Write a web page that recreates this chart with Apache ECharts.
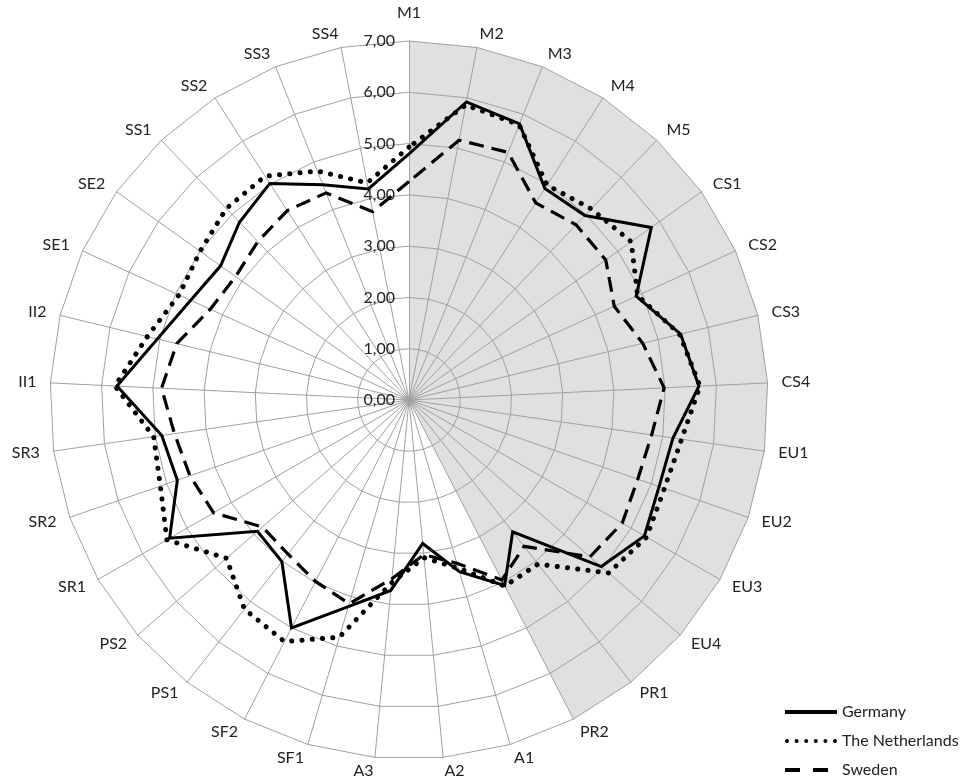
<!DOCTYPE html>
<html>
<head>
<meta charset="utf-8">
<script src="https://cdn.jsdelivr.net/npm/echarts@6/dist/echarts.min.js"></script>
<style>
html,body{margin:0;padding:0;background:#fff;}
#c{width:972px;height:782px;}
</style>
</head>
<body>
<div id="c"></div>
<script>
// ---- data (natural clockwise order starting at the top) ----
const categories = ['M1','M2','M3','M4','M5','CS1','CS2','CS3','CS4','EU1','EU2','EU3','EU4','PR1','PR2','A1','A2','A3','SF1','SF2','PS1','PS2','SR1','SR2','SR3','II1','II2','SE1','SE2','SS1','SS2','SS3','SS4'];
const germany     = [4.80,5.92,5.80,4.90,4.97,5.80,4.87,5.45,5.66,5.20,5.16,5.30,4.96,3.27,4.07,3.49,2.81,3.73,4.20,5.00,4.01,3.91,5.39,4.78,4.87,5.70,5.05,4.68,4.51,4.79,5.02,4.52,4.19];
const netherlands = [4.93,5.86,5.78,4.98,5.15,5.32,4.90,5.43,5.68,5.37,5.27,5.35,5.15,4.07,4.08,3.42,3.09,3.58,4.82,5.30,5.19,4.71,5.45,5.13,5.03,5.74,5.25,4.93,5.00,5.16,5.19,4.81,4.31];
const sweden      = [4.26,5.16,5.20,4.57,4.72,4.71,4.40,4.69,4.98,4.78,4.72,4.80,4.67,3.63,3.95,3.32,3.03,3.50,4.14,3.98,3.82,3.78,4.40,4.52,4.62,4.83,4.66,4.26,4.15,4.27,4.39,4.35,3.74];
const shadedCategories = ['M1','M2','M3','M4','M5','CS1','CS2','CS3','CS4','EU1','EU2','EU3','EU4','PR1','PR2'];
const tickLabels = ['0,00','1,00','2,00','3,00','4,00','5,00','6,00','7,00'];
const seriesNames = ['Germany','The Netherlands','Sweden'];
const axisMax = 7;

// ---- build ----
const chart = echarts.init(document.getElementById('c'), null, {renderer: 'canvas'});
// ECharts places radar indicators counter-clockwise; reverse to get clockwise order
const order = [0].concat(categories.map((_, i) => i).slice(1).reverse());
const reorder = arr => order.map(i => arr[i]);
const shadeValues = categories.map(c => shadedCategories.indexOf(c) >= 0 ? axisMax : 0);

const FONT = 'Lato';
const TEXT = '#222222';
const GRID = '#a0a0a0';

const dotPath = 'path://' + [0, 9.6, 19.2, 28.8, 38.4, 48].map(x => 'M' + x + ',2a2,2 0 1,0 4,0a2,2 0 1,0 -4,0Z').join(' ');

const option = {
  animation: false,
  backgroundColor: '#ffffff',
  radar: {
    z: 2,
    center: [409, 400],
    radius: 359,
    startAngle: 90,
    splitNumber: 7,
    shape: 'polygon',
    axisNameGap: 14,
    axisName: {color: TEXT, fontFamily: FONT, fontSize: 16},
    indicator: order.map((i, k) => {
      const o = {name: categories[i], min: 0, max: axisMax};
      if (k === 0) { o.axisLabel = {show: true}; o.nameGap = 20; }
      return o;
    }),
    axisLine: {show: true, lineStyle: {color: GRID, width: 1}},
    splitLine: {show: true, lineStyle: {color: GRID, width: 1}},
    splitArea: {show: false},
    axisTick: {show: false},
    axisLabel: {
      show: false, color: TEXT, fontFamily: FONT, fontSize: 16, margin: 14,
      formatter: v => tickLabels[Math.round(v)]
    }
  },
  legend: {
    orient: 'vertical',
    left: 785,
    top: 704,
    padding: 0,
    itemWidth: 52,
    itemHeight: 4,
    itemGap: 13,
    symbolKeepAspect: false,
    textStyle: {color: TEXT, fontFamily: FONT, fontSize: 16},
    itemStyle: {color: '#000', borderWidth: 0},
    data: [
      {name: seriesNames[0], icon: 'path://M0,0H52V4H0Z'},
      {name: seriesNames[1], icon: dotPath},
      {name: seriesNames[2], icon: 'path://M0,0H15V4H0Z M28,0H43V4H28Z M51.9,1.9H52V2.1H51.9Z'}
    ]
  },
  series: [
    {
      type: 'radar', z: 1, silent: true, symbol: 'none',
      data: [{
        name: 'shade', value: reorder(shadeValues),
        lineStyle: {width: 0, opacity: 0},
        itemStyle: {color: '#e0e0e0'},
        areaStyle: {color: '#e0e0e0', opacity: 1}
      }]
    },
    {
      type: 'radar', z: 3, symbol: 'none',
      data: [{
        name: seriesNames[2], value: reorder(sweden),
        itemStyle: {color: '#000'},
        lineStyle: {color: '#000', width: 3.2, type: [15, 8], cap: 'butt', join: 'miter'}
      }]
    },
    {
      type: 'radar', z: 3, symbol: 'none',
      data: [{
        name: seriesNames[1], value: reorder(netherlands),
        itemStyle: {color: '#000'},
        lineStyle: {color: '#000', width: 5, type: [0.1, 10.2], cap: 'round', join: 'round'}
      }]
    },
    {
      type: 'radar', z: 3, symbol: 'none',
      data: [{
        name: seriesNames[0], value: reorder(germany),
        itemStyle: {color: '#000'},
        lineStyle: {color: '#000', width: 3, type: 'solid', join: 'miter'}
      }]
    }
  ]
};
chart.setOption(option);
</script>
</body>
</html>
